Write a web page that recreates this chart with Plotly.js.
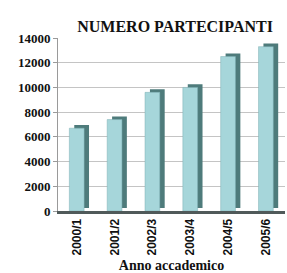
<!DOCTYPE html>
<html>
<head>
<meta charset="utf-8">
<script src="https://cdn.plot.ly/plotly-3.0.1.min.js"></script>
<style>html,body{margin:0;padding:0;background:#fff;}#chart{width:287px;height:273px;}</style>
</head>
<body>
<div id="chart"></div>
<script>
const categories = ["2000/1", "2001/2", "2002/3", "2003/4", "2004/5", "2005/6"];
const participants = [6700, 7400, 9600, 10000, 12500, 13300];
const yTicks = [0, 2000, 4000, 6000, 8000, 10000, 12000, 14000];

const side = {
  type: 'bar', x: categories, y: participants,
  base: 250, offset: -0.07, width: 0.39,
  marker: {color: '#4e7b7b', line: {width: 0}},
  hoverinfo: 'skip', showlegend: false
};
const front = {
  type: 'bar', x: categories, y: participants,
  offset: -0.2, width: 0.39,
  marker: {color: '#a6d6da', line: {color: '#7fb0b4', width: 0.5}},
  showlegend: false
};

const layout = {
  width: 287, height: 273,
  margin: {l: 58, r: 2, t: 38, b: 62},
  paper_bgcolor: '#fff', plot_bgcolor: '#fff',
  barmode: 'overlay',
  title: {text: 'NUMERO PARTECIPANTI', x: 0.61, xanchor: 'center', y: 0.905, yanchor: 'middle',
          font: {family: 'Liberation Serif', size: 16, color: '#111', weight: 'bold'}},
  xaxis: {
    type: 'category', tickangle: -90, showgrid: false,
    showline: true, linecolor: '#505a5a', linewidth: 3,
    ticks: '', tickfont: {family: 'Liberation Sans', size: 12, color: '#111', weight: 'bold'},
    title: {text: 'Anno accademico', standoff: 7,
            font: {family: 'Liberation Serif', size: 14, color: '#111', weight: 'bold'}},
    fixedrange: true
  },
  yaxis: {
    range: [0, 14000], tickvals: yTicks, ticktext: yTicks.map(String),
    showgrid: true, gridcolor: '#c4c4c4', gridwidth: 1,
    showline: true, linecolor: '#9a9a9a', linewidth: 1,
    ticks: 'outside', ticklen: 4, tickcolor: '#9a9a9a',
    tickfont: {family: 'Liberation Serif', size: 13, color: '#111', weight: 'bold'},
    zeroline: false, fixedrange: true
  }
};

Plotly.newPlot('chart', [side, front], layout, {displayModeBar: false, staticPlot: true});
</script>
</body>
</html>
